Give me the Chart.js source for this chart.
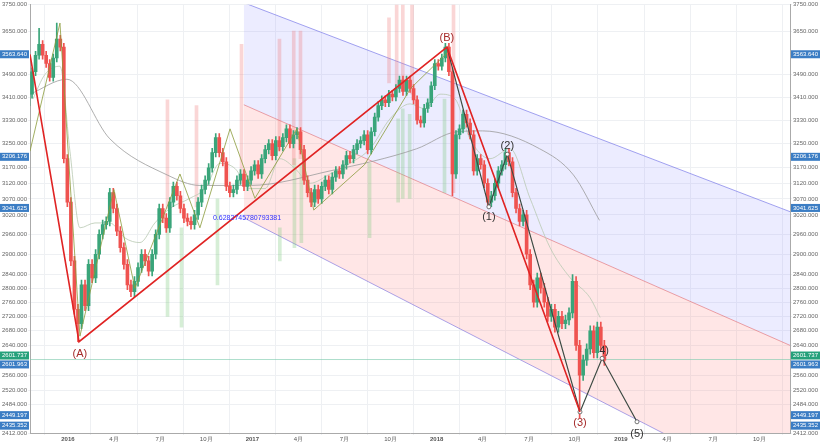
<!DOCTYPE html>
<html>
<head>
<meta charset="utf-8">
<script src="https://cdn.jsdelivr.net/npm/chart.js@4/dist/chart.umd.min.js"></script>
<style>
  html, body { margin: 0; padding: 0; background: #fff; }
  #wrap { width: 820px; height: 446px; }
</style>
</head>
<body>
<div id="wrap"><canvas id="c"></canvas></div>
<script>
// weekly closes, first candle ~ mid Oct 2015
const closes = [3420,3500,3560,3600,3560,3530,3480,3550,3620,3590,3200,3060,2880,2740,2700,2810,2750,2870,2830,2900,
  2960,2990,3000,3090,3040,2970,2920,2870,2810,2790,2820,2860,2900,2880,2850,2900,2960,3040,3010,2980,
  3060,3110,3080,3040,3010,3000,2990,3020,3060,3100,3130,3170,3220,3270,3220,3190,3110,3090,3100,3130,
  3150,3110,3130,3160,3180,3150,3200,3230,3250,3210,3260,3240,3270,3300,3250,3280,3290,3230,3130,3090,
  3060,3100,3070,3110,3130,3100,3140,3160,3150,3180,3210,3200,3230,3250,3260,3280,3230,3290,3340,3380,
  3400,3390,3420,3410,3440,3470,3430,3470,3440,3400,3330,3320,3370,3390,3450,3530,3520,3550,3590,3500,
  3150,3280,3300,3350,3320,3280,3160,3200,3180,3120,3060,3080,3120,3160,3180,3220,3190,3090,3040,3000,
  3020,2900,2810,2760,2830,2800,2760,2720,2740,2690,2720,2700,2710,2730,2820,2640,2560,2600,2630,2680,
  2620,2690,2640,2600];
const firstOpen = 3380;
// notable wick extremes [index, high, low]
const bigWicks = [[8, 3680, null], [14, null, 2650], [120, null, 3080], [156, null, 2450], [154, 2840, null], [3, 3660, null]];
const weekStep = 7 / 30.44;
const startMonth = -2.47;

// channel lines [month, price]
const chanUpper = [[11.45, 3758], [47.0, 3030]];
const chanMiddle = [[11.45, 3383], [47.0, 2640]];
const chanLower = [[11.45, 3011], [47.0, 2255]];

const abcLine = [[-2.47, 3563], [0.72, 2650], [24.67, 3590], [33.33, 2465]];
const waveLine = [[24.67, 3590], [27.4, 3045], [28.6, 3215], [33.33, 2465], [34.77, 2605], [37.04, 2440]];
const zigzag = [[-2.47, 3225], [-0.52, 3680], [0.78, 2665], [2.99, 3100], [4.36, 2800], [7.29, 3150], [8.59, 2980],
  [10.55, 3300], [12.17, 3072], [14.9, 3300], [16.0, 3035], [19.3, 3180], [22.3, 3440], [24.7, 3570]];
const slowMA = [[-2.47, 3420], [-0.07, 3473], [2.73, 3266], [6.45, 3147], [8.59, 3113], [11.85, 3113], [17.06, 3160],
  [22.7, 3233], [25.3, 3290], [27.0, 3293], [30.7, 3233], [32.9, 3147], [34.6, 3003]];
const fastMA = [[-2.28, 3403], [-1.5, 3490], [-0.52, 3520], [0.13, 3225], [0.78, 2980], [1.76, 2995], [2.73, 2995],
  [3.71, 2949], [4.69, 2935], [5.66, 2995], [6.64, 3040], [7.94, 3072], [8.92, 3103], [9.9, 3185], [10.87, 3168],
  [11.85, 3103], [12.83, 3103], [13.8, 3200], [14.78, 3168], [15.76, 3120], [17.06, 3150], [18.36, 3185],
  [19.66, 3233], [20.96, 3334], [22.27, 3386], [23.24, 3369], [24.22, 3420], [25.2, 3403], [26.17, 3266],
  [27.47, 3200], [28.78, 3233], [30.08, 3072], [31.38, 2920], [32.68, 2831], [33.98, 2773], [34.64, 2717]];

// signal strips [month, top, bottom]
const sellStrips = [[6.38, 3400, 3040], [8.27, 3380, 3045], [11.2, 3600, 3120], [13.67, 3620, 3230], [14.6, 3650, 3180],
  [15.04, 3650, 3200], [20.8, 3700, 3460], [21.3, 3770, 3440], [21.7, 3770, 3460], [22.3, 3770, 3420], [25.0, 3770, 3090]];
const buyStrips = [[6.19, 2980, 2720], [7.1, 2980, 2690], [9.44, 3070, 2810], [13.5, 2980, 2880], [14.45, 3200, 2920],
  [14.9, 3185, 2935], [19.34, 3185, 2950], [21.2, 3334, 3060], [21.5, 3369, 3072], [21.95, 3350, 3072], [24.22, 3403, 3090]];

const yTicks = [3750, 3650, 3490, 3410, 3330, 3250, 3170, 3120, 3070, 3020, 2960, 2900, 2840, 2800, 2760, 2720, 2680,
  2640, 2560, 2520, 2484, 2412];
// [value, colour, label nudge px]
const badges = [[3563.640, '#3b7dc4', 0], [3206.176, '#3b7dc4', 0], [3041.625, '#3b7dc4', 0], [2601.737, '#26a17b', -4],
  [2601.963, '#3b7dc4', 5], [2449.197, '#3b7dc4', -3], [2435.352, '#3b7dc4', 2]];
const waveLabels = [[0.78, 2650, '(A)', '#a52a2a', 12], [24.67, 3590, '(B)', '#a52a2a', -9], [27.4, 3045, '(1)', '#333', 10],
  [28.6, 3215, '(2)', '#333', -8], [33.33, 2465, '(3)', '#a52a2a', 11], [34.9, 2605, '4)', '#333', -7], [37.04, 2440, '(5)', '#333', 12]];

const UP = '#3aa57a', DOWN = '#ef5350';
const wicks = [], bodies = [], bodyColors = [], wickColors = [];
let prev = firstOpen;
closes.forEach((c, i) => {
  const x = startMonth + i * weekStep;
  let hi = Math.max(prev, c) + 14, lo = Math.min(prev, c) - 14;
  bigWicks.forEach(w => { if (w[0] === i) { if (w[1]) hi = w[1]; if (w[2]) lo = w[2]; } });
  const col = c >= prev ? UP : DOWN;
  wicks.push({x: x, y: [lo, hi]});
  bodies.push({x: x, y: [prev, c]});
  bodyColors.push(col); wickColors.push(col);
  prev = c;
});
const pts = a => a.map(p => ({x: p[0], y: p[1]}));
const line = (data, color, width, extra) => Object.assign({type: 'line', data: pts(data), borderColor: color,
  borderWidth: width, pointRadius: 0, fill: false, tension: 0, order: 1}, extra || {});

const annot = {
  id: 'annot',
  afterDatasetsDraw(chart) {
    const {ctx, chartArea: a, scales: {x, y}} = chart;
    ctx.save();
    ctx.font = '11px "Liberation Sans", Arial';
    ctx.textAlign = 'center'; ctx.textBaseline = 'middle';
    waveLabels.forEach(l => {
      ctx.fillStyle = l[3];
      ctx.fillText(l[2], x.getPixelForValue(l[0]), y.getPixelForValue(l[1]) + l[4]);
    });
    ctx.font = '7px "Liberation Sans", Arial';
    ctx.fillStyle = '#3030ff'; ctx.textAlign = 'left';
    ctx.fillText('0.6282745780793381', x.getPixelForValue(9.44), y.getPixelForValue(3010));
    // axis badges
    ctx.font = '6px "Liberation Sans", Arial';
    ctx.textAlign = 'center';
    badges.forEach(b => {
      const py = y.getPixelForValue(b[0]) + b[2];
      [[0, a.left - 1], [a.right + 1, chart.width - a.right - 1]].forEach(s => {
        ctx.fillStyle = b[1];
        ctx.fillRect(s[0], py - 4, s[1], 8);
        ctx.fillStyle = '#fff';
        ctx.fillText(b[0].toFixed(3), s[0] + s[1] / 2, py);
      });
    });
    ctx.restore();
  }
};

const monthTicks = [];
for (let m = 0; m <= 45; m += 3) monthTicks.push(m);
const yAxis = (pos) => ({
  type: 'logarithmic', position: pos, min: 2412, max: 3750,
  afterBuildTicks: s => { s.ticks = yTicks.map(v => ({value: v})); },
  afterFit: s => { s.width = 30; },
  grid: {color: '#eef0f3', drawTicks: true, tickLength: 2},
  border: {color: '#aaa'},
  ticks: {color: '#666', font: {size: 6, family: 'Liberation Sans'}, padding: 1, callback: v => v.toFixed(3)}
});

new Chart(document.getElementById('c'), {
  type: 'bar',
  data: {
    datasets: [
      line(chanUpper, 'rgba(110,110,230,0.8)', 0.8, {fill: '+1', backgroundColor: 'rgba(140,140,255,0.17)', order: 5}),
      line(chanMiddle, 'rgba(230,110,110,0.8)', 0.8, {fill: '+1', backgroundColor: 'rgba(255,130,130,0.2)', order: 5}),
      line(chanLower, 'rgba(110,110,230,0.8)', 0.8, {order: 5}),
      {type: 'bar', data: sellStrips.map(s => ({x: s[0], y: [s[2], s[1]]})), backgroundColor: 'rgba(240,120,120,0.3)', barThickness: 3, order: 4},
      {type: 'bar', data: buyStrips.map(s => ({x: s[0], y: [s[2], s[1]]})), backgroundColor: 'rgba(120,200,120,0.3)', barThickness: 3, order: 4},
      line([[-2.47, 2601.737], [47.0, 2601.737]], 'rgba(120,200,170,0.6)', 1, {order: 4}),
      line(slowMA, '#9a9a9a', 0.8, {tension: 0.4, cubicInterpolationMode: 'monotone', order: 3}),
      line(fastMA, '#b9c9b3', 0.8, {tension: 0.4, cubicInterpolationMode: 'monotone', order: 3}),
      {type: 'bar', data: wicks, backgroundColor: wickColors, barThickness: 1, order: 2},
      {type: 'bar', data: bodies, backgroundColor: bodyColors, barThickness: 3, minBarLength: 1, order: 2},
      line(zigzag, '#8a9a3a', 0.8, {order: 1}),
      line(abcLine, '#e02424', 1.6, {order: 0}),
      line(waveLine, '#3d4b44', 1.2, {order: 0, pointRadius: [0, 2, 2, 2, 2, 2], pointBackgroundColor: '#fff', pointBorderColor: '#555', pointBorderWidth: 0.8})
    ]
  },
  options: {
    responsive: true, maintainAspectRatio: false, animation: false,
    layout: {padding: 0},
    plugins: {legend: {display: false}, tooltip: {enabled: false}},
    scales: {
      x: {
        type: 'linear', min: -2.47, max: 47.0, offset: false,
        afterBuildTicks: s => { s.ticks = monthTicks.map(v => ({value: v})); },
        afterFit: s => { s.height = 13; },
        grid: {color: '#eef0f3', tickLength: 2},
        border: {color: '#aaa'},
        ticks: {
          color: '#555', maxRotation: 0, padding: 1,
          font: c => ({size: 6, family: 'Liberation Sans', weight: c.tick && c.tick.value % 12 === 0 ? 'bold' : 'normal'}),
          callback: v => v % 12 === 0 ? String(2016 + v / 12) : (v % 12 + 1) + '月'
        }
      },
      y: yAxis('left'),
      y2: yAxis('right')
    }
  },
  plugins: [annot]
});
</script>
</body>
</html>
